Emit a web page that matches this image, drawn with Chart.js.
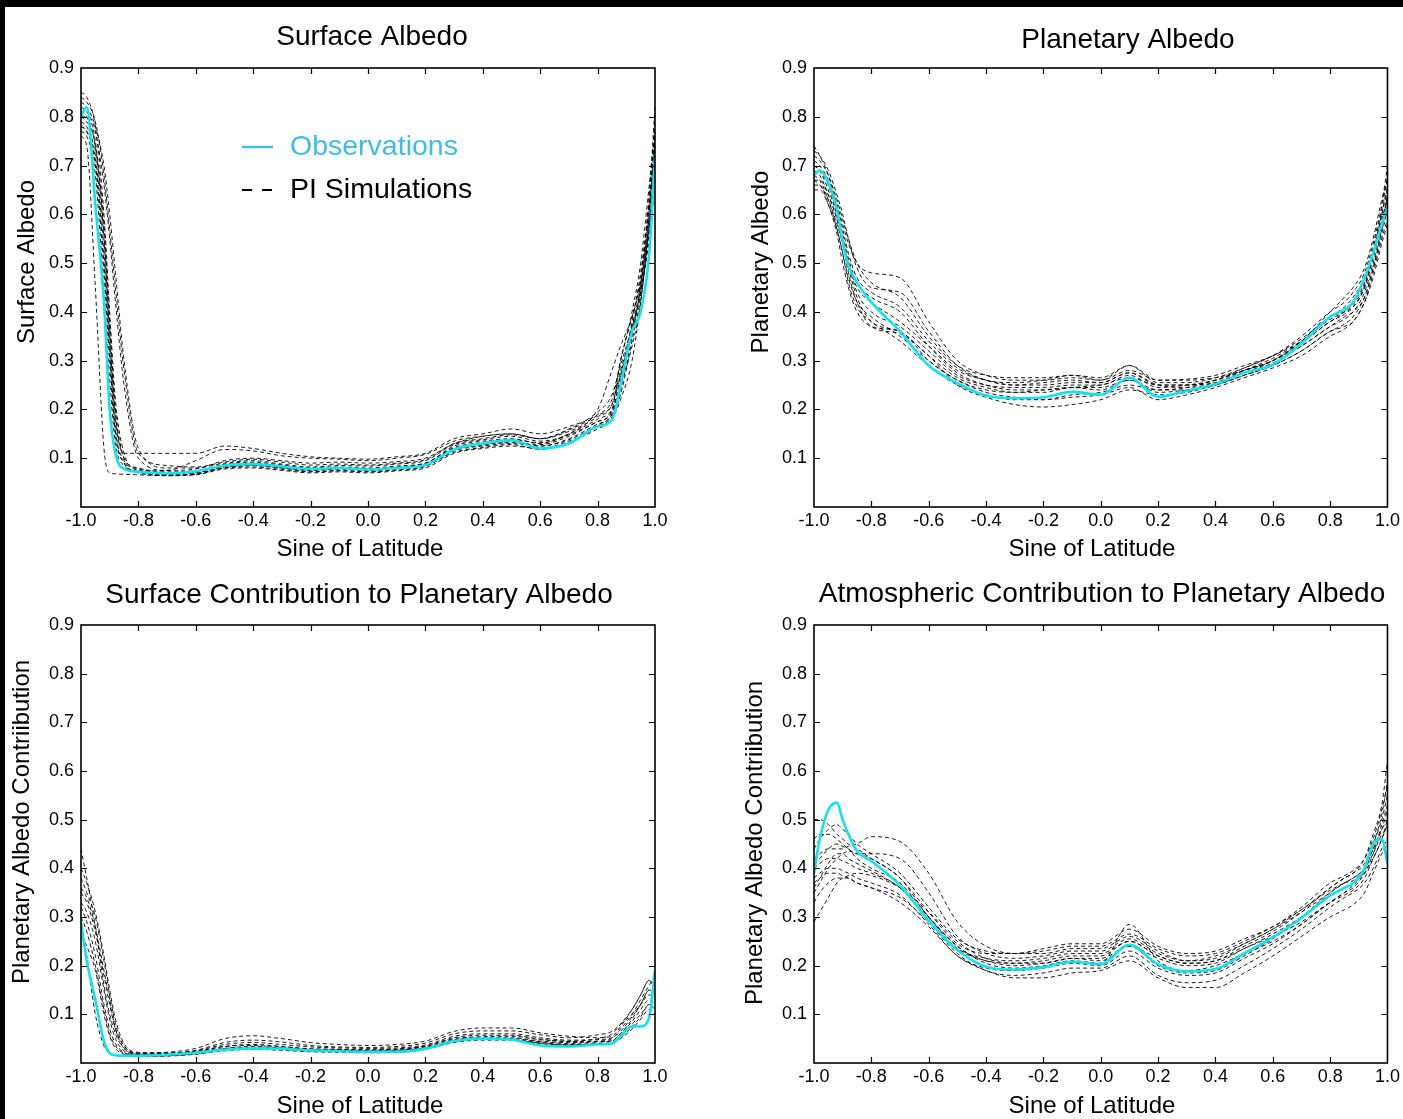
<!DOCTYPE html>
<html>
<head>
<meta charset="utf-8">
<script src="https://cdn.jsdelivr.net/npm/chart.js@4.4.1/dist/chart.umd.min.js"></script>
<style>
  html, body { margin: 0; padding: 0; background: #fff; }
  body { width: 1403px; height: 1119px; position: relative; overflow: hidden; }
  canvas { position: absolute; }
  .bar { position: absolute; background: #000; z-index: 2; }
</style>
</head>
<body>
<div class="bar" style="left:0;top:0;width:1403px;height:7px"></div>
<div class="bar" style="left:0;top:0;width:5px;height:1119px"></div>
<canvas id="c1" width="700" height="560" style="left:0;top:0"></canvas>
<canvas id="c2" width="703" height="560" style="left:700px;top:0"></canvas>
<canvas id="c3" width="700" height="559" style="left:0;top:560px"></canvas>
<canvas id="c4" width="703" height="559" style="left:700px;top:560px"></canvas>
<script>
const sinLat = [-1.0, -0.98, -0.95, -0.92, -0.9, -0.88, -0.85, -0.8, -0.7, -0.6,
  -0.5, -0.4, -0.3, -0.2, -0.1, 0.0, 0.1, 0.2, 0.3, 0.4,
  0.5, 0.6, 0.7, 0.8, 0.85, 0.88, 0.92, 0.95, 0.98, 1.0];

const xTicks = [-1.0, -0.8, -0.6, -0.4, -0.2, 0.0, 0.2, 0.4, 0.6, 0.8, 1.0];
const yTicks = [0.1, 0.2, 0.3, 0.4, 0.5, 0.6, 0.7, 0.8, 0.9];

// Surface albedo
const surfObs = [0.80, 0.82, 0.62, 0.42, 0.20, 0.11, 0.078, 0.072, 0.069, 0.073,
  0.085, 0.088, 0.083, 0.078, 0.080, 0.077, 0.080, 0.086, 0.118, 0.130,
  0.137, 0.120, 0.130, 0.165, 0.178, 0.25, 0.36, 0.40, 0.52, 0.72];
const surfSims = [
  [0.85, 0.84, 0.78, 0.60, 0.40, 0.22, 0.11, 0.075, 0.068, 0.070, 0.082, 0.085, 0.080, 0.075, 0.078, 0.076, 0.080, 0.088, 0.125, 0.135, 0.140, 0.130, 0.150, 0.180, 0.20, 0.25, 0.33, 0.42, 0.60, 0.80],
  [0.78, 0.77, 0.70, 0.48, 0.30, 0.15, 0.09, 0.072, 0.066, 0.068, 0.080, 0.082, 0.077, 0.072, 0.074, 0.073, 0.076, 0.083, 0.115, 0.125, 0.130, 0.125, 0.140, 0.170, 0.19, 0.26, 0.38, 0.48, 0.62, 0.74],
  [0.80, 0.79, 0.74, 0.55, 0.35, 0.18, 0.11, 0.11, 0.11, 0.11, 0.125, 0.120, 0.110, 0.103, 0.100, 0.098, 0.103, 0.110, 0.140, 0.150, 0.160, 0.150, 0.165, 0.190, 0.22, 0.30, 0.40, 0.50, 0.66, 0.77],
  [0.76, 0.74, 0.45, 0.12, 0.07, 0.068, 0.067, 0.066, 0.064, 0.066, 0.078, 0.080, 0.075, 0.070, 0.072, 0.070, 0.074, 0.080, 0.110, 0.120, 0.125, 0.120, 0.135, 0.160, 0.18, 0.22, 0.30, 0.42, 0.58, 0.70],
  [0.82, 0.81, 0.77, 0.66, 0.55, 0.42, 0.25, 0.10, 0.075, 0.078, 0.095, 0.100, 0.095, 0.090, 0.092, 0.090, 0.093, 0.100, 0.130, 0.145, 0.150, 0.140, 0.155, 0.185, 0.21, 0.28, 0.36, 0.44, 0.55, 0.66],
  [0.79, 0.78, 0.72, 0.52, 0.32, 0.16, 0.095, 0.078, 0.070, 0.072, 0.088, 0.092, 0.086, 0.080, 0.082, 0.080, 0.084, 0.090, 0.120, 0.128, 0.132, 0.128, 0.145, 0.175, 0.195, 0.27, 0.37, 0.46, 0.63, 0.79],
  [0.81, 0.80, 0.74, 0.58, 0.38, 0.20, 0.10, 0.070, 0.065, 0.067, 0.080, 0.085, 0.080, 0.073, 0.075, 0.072, 0.076, 0.084, 0.112, 0.122, 0.128, 0.118, 0.132, 0.165, 0.185, 0.23, 0.34, 0.43, 0.57, 0.72],
  [0.77, 0.76, 0.68, 0.44, 0.26, 0.13, 0.085, 0.074, 0.075, 0.095, 0.118, 0.115, 0.105, 0.100, 0.098, 0.095, 0.100, 0.108, 0.135, 0.145, 0.150, 0.140, 0.158, 0.188, 0.21, 0.27, 0.36, 0.45, 0.61, 0.75],
  [0.83, 0.82, 0.78, 0.70, 0.60, 0.48, 0.30, 0.12, 0.080, 0.080, 0.090, 0.095, 0.088, 0.082, 0.085, 0.084, 0.088, 0.095, 0.128, 0.138, 0.145, 0.135, 0.148, 0.175, 0.20, 0.30, 0.39, 0.47, 0.64, 0.82],
  [0.80, 0.80, 0.75, 0.56, 0.36, 0.19, 0.10, 0.080, 0.072, 0.074, 0.086, 0.090, 0.084, 0.079, 0.080, 0.078, 0.082, 0.090, 0.122, 0.132, 0.138, 0.132, 0.150, 0.200, 0.28, 0.33, 0.39, 0.46, 0.58, 0.68],
  [0.78, 0.77, 0.71, 0.50, 0.31, 0.15, 0.09, 0.071, 0.066, 0.069, 0.083, 0.087, 0.081, 0.076, 0.078, 0.075, 0.079, 0.086, 0.117, 0.127, 0.134, 0.125, 0.138, 0.168, 0.19, 0.24, 0.35, 0.45, 0.60, 0.76],
  [0.84, 0.83, 0.79, 0.68, 0.57, 0.45, 0.28, 0.11, 0.085, 0.082, 0.092, 0.098, 0.092, 0.086, 0.088, 0.086, 0.090, 0.097, 0.130, 0.140, 0.148, 0.140, 0.160, 0.195, 0.23, 0.29, 0.37, 0.44, 0.57, 0.70]
];

// Planetary albedo
const planObs = [0.68, 0.69, 0.665, 0.61, 0.545, 0.495, 0.46, 0.42, 0.36, 0.29,
  0.254, 0.228, 0.223, 0.225, 0.236, 0.23, 0.265, 0.226, 0.238, 0.252,
  0.275, 0.292, 0.335, 0.39, 0.405, 0.42, 0.47, 0.52, 0.58, 0.615];
const planSims = [
  [0.74, 0.72, 0.68, 0.62, 0.58, 0.54, 0.50, 0.48, 0.47, 0.38, 0.30, 0.27, 0.26, 0.26, 0.265, 0.26, 0.28, 0.26, 0.262, 0.27, 0.29, 0.31, 0.345, 0.39, 0.41, 0.43, 0.47, 0.52, 0.60, 0.66],
  [0.66, 0.66, 0.62, 0.56, 0.50, 0.45, 0.40, 0.37, 0.36, 0.30, 0.26, 0.24, 0.235, 0.24, 0.245, 0.24, 0.26, 0.235, 0.24, 0.25, 0.27, 0.29, 0.32, 0.36, 0.37, 0.38, 0.42, 0.48, 0.55, 0.59],
  [0.70, 0.69, 0.66, 0.60, 0.55, 0.50, 0.45, 0.42, 0.38, 0.33, 0.28, 0.26, 0.25, 0.255, 0.26, 0.255, 0.275, 0.25, 0.25, 0.26, 0.285, 0.31, 0.34, 0.38, 0.40, 0.42, 0.46, 0.53, 0.61, 0.68],
  [0.68, 0.67, 0.63, 0.57, 0.52, 0.47, 0.42, 0.39, 0.35, 0.30, 0.26, 0.235, 0.225, 0.22, 0.23, 0.235, 0.25, 0.24, 0.245, 0.26, 0.28, 0.30, 0.33, 0.37, 0.385, 0.40, 0.44, 0.50, 0.57, 0.62],
  [0.72, 0.71, 0.68, 0.63, 0.59, 0.55, 0.50, 0.46, 0.43, 0.35, 0.29, 0.27, 0.265, 0.265, 0.27, 0.265, 0.29, 0.255, 0.255, 0.265, 0.285, 0.31, 0.35, 0.40, 0.42, 0.44, 0.48, 0.54, 0.62, 0.70],
  [0.67, 0.66, 0.63, 0.58, 0.54, 0.48, 0.42, 0.37, 0.355, 0.31, 0.25, 0.225, 0.21, 0.205, 0.21, 0.22, 0.24, 0.23, 0.235, 0.25, 0.27, 0.29, 0.32, 0.36, 0.375, 0.39, 0.43, 0.49, 0.56, 0.61],
  [0.69, 0.68, 0.64, 0.59, 0.55, 0.50, 0.44, 0.40, 0.37, 0.32, 0.27, 0.25, 0.245, 0.245, 0.25, 0.25, 0.27, 0.245, 0.25, 0.26, 0.28, 0.30, 0.335, 0.38, 0.395, 0.41, 0.45, 0.51, 0.58, 0.64],
  [0.71, 0.70, 0.67, 0.62, 0.57, 0.52, 0.47, 0.44, 0.41, 0.34, 0.285, 0.26, 0.255, 0.26, 0.27, 0.26, 0.29, 0.26, 0.26, 0.265, 0.28, 0.30, 0.34, 0.40, 0.43, 0.45, 0.49, 0.55, 0.63, 0.67],
  [0.65, 0.65, 0.62, 0.57, 0.52, 0.46, 0.41, 0.38, 0.34, 0.29, 0.25, 0.23, 0.22, 0.22, 0.225, 0.23, 0.245, 0.22, 0.23, 0.245, 0.265, 0.285, 0.31, 0.35, 0.365, 0.38, 0.42, 0.47, 0.54, 0.58],
  [0.70, 0.69, 0.65, 0.60, 0.56, 0.51, 0.46, 0.43, 0.40, 0.33, 0.275, 0.25, 0.24, 0.24, 0.245, 0.25, 0.265, 0.25, 0.25, 0.255, 0.275, 0.30, 0.34, 0.39, 0.40, 0.41, 0.45, 0.52, 0.60, 0.65],
  [0.73, 0.72, 0.69, 0.64, 0.60, 0.55, 0.49, 0.45, 0.44, 0.36, 0.29, 0.26, 0.25, 0.25, 0.255, 0.255, 0.275, 0.25, 0.245, 0.255, 0.28, 0.305, 0.34, 0.385, 0.40, 0.415, 0.455, 0.52, 0.59, 0.63],
  [0.67, 0.67, 0.64, 0.59, 0.54, 0.49, 0.43, 0.38, 0.36, 0.31, 0.265, 0.245, 0.235, 0.235, 0.245, 0.245, 0.26, 0.24, 0.24, 0.25, 0.275, 0.295, 0.33, 0.37, 0.39, 0.40, 0.43, 0.49, 0.57, 0.64]
];

// Surface contribution to planetary albedo
const surfContribObs = [0.29, 0.21, 0.13, 0.045, 0.02, 0.016, 0.015, 0.015, 0.017, 0.021,
  0.027, 0.030, 0.029, 0.026, 0.024, 0.023, 0.023, 0.029, 0.045, 0.050,
  0.048, 0.036, 0.034, 0.038, 0.040, 0.055, 0.075, 0.075, 0.095, 0.19];
const surfContribSims = [
  [0.44, 0.38, 0.28, 0.16, 0.10, 0.06, 0.03, 0.018, 0.018, 0.022, 0.030, 0.032, 0.030, 0.027, 0.026, 0.025, 0.026, 0.032, 0.048, 0.052, 0.052, 0.045, 0.042, 0.045, 0.05, 0.07, 0.10, 0.13, 0.16, 0.18],
  [0.32, 0.29, 0.22, 0.12, 0.07, 0.04, 0.022, 0.015, 0.016, 0.020, 0.028, 0.030, 0.028, 0.025, 0.024, 0.023, 0.024, 0.030, 0.045, 0.050, 0.049, 0.042, 0.038, 0.040, 0.042, 0.055, 0.08, 0.10, 0.12, 0.11],
  [0.38, 0.35, 0.30, 0.21, 0.14, 0.08, 0.035, 0.02, 0.022, 0.030, 0.050, 0.056, 0.050, 0.042, 0.038, 0.036, 0.038, 0.045, 0.065, 0.072, 0.072, 0.062, 0.055, 0.052, 0.055, 0.075, 0.11, 0.14, 0.17, 0.16],
  [0.28, 0.22, 0.10, 0.035, 0.02, 0.016, 0.014, 0.013, 0.014, 0.018, 0.025, 0.028, 0.026, 0.023, 0.022, 0.021, 0.022, 0.028, 0.042, 0.047, 0.047, 0.040, 0.036, 0.038, 0.040, 0.05, 0.07, 0.09, 0.11, 0.10],
  [0.35, 0.33, 0.27, 0.18, 0.12, 0.07, 0.035, 0.02, 0.02, 0.025, 0.038, 0.042, 0.038, 0.033, 0.031, 0.030, 0.031, 0.037, 0.055, 0.060, 0.060, 0.052, 0.047, 0.048, 0.052, 0.065, 0.095, 0.12, 0.15, 0.14],
  [0.30, 0.27, 0.20, 0.11, 0.06, 0.035, 0.02, 0.015, 0.016, 0.021, 0.030, 0.034, 0.031, 0.027, 0.026, 0.025, 0.026, 0.031, 0.046, 0.050, 0.050, 0.044, 0.040, 0.043, 0.045, 0.06, 0.085, 0.11, 0.13, 0.12],
  [0.33, 0.31, 0.25, 0.15, 0.09, 0.05, 0.025, 0.016, 0.017, 0.023, 0.034, 0.038, 0.034, 0.029, 0.028, 0.027, 0.029, 0.035, 0.052, 0.057, 0.057, 0.049, 0.044, 0.044, 0.046, 0.06, 0.09, 0.12, 0.14, 0.13],
  [0.36, 0.34, 0.28, 0.19, 0.13, 0.07, 0.03, 0.018, 0.019, 0.026, 0.042, 0.047, 0.043, 0.036, 0.033, 0.032, 0.034, 0.041, 0.060, 0.066, 0.066, 0.058, 0.052, 0.058, 0.065, 0.08, 0.10, 0.12, 0.15, 0.15],
  [0.26, 0.24, 0.19, 0.10, 0.055, 0.03, 0.018, 0.014, 0.015, 0.019, 0.027, 0.030, 0.028, 0.025, 0.024, 0.023, 0.024, 0.029, 0.044, 0.049, 0.048, 0.041, 0.037, 0.039, 0.041, 0.052, 0.075, 0.095, 0.12, 0.12],
  [0.40, 0.37, 0.31, 0.22, 0.15, 0.09, 0.04, 0.022, 0.021, 0.024, 0.034, 0.036, 0.033, 0.029, 0.028, 0.027, 0.028, 0.034, 0.050, 0.054, 0.055, 0.048, 0.045, 0.050, 0.060, 0.08, 0.11, 0.14, 0.17, 0.15]
];

// Atmospheric contribution to planetary albedo
const atmContribObs = [0.39, 0.46, 0.52, 0.535, 0.50, 0.47, 0.435, 0.415, 0.365, 0.293,
  0.232, 0.198, 0.192, 0.197, 0.208, 0.203, 0.243, 0.203, 0.188, 0.193,
  0.225, 0.258, 0.298, 0.344, 0.36, 0.37, 0.40, 0.45, 0.46, 0.41];
const atmContribSims = [
  [0.50, 0.50, 0.49, 0.47, 0.46, 0.45, 0.44, 0.42, 0.38, 0.30, 0.24, 0.21, 0.205, 0.21, 0.22, 0.22, 0.25, 0.22, 0.205, 0.21, 0.24, 0.27, 0.31, 0.36, 0.38, 0.39, 0.42, 0.47, 0.53, 0.62],
  [0.42, 0.43, 0.44, 0.44, 0.44, 0.445, 0.45, 0.465, 0.455, 0.39, 0.29, 0.24, 0.225, 0.225, 0.235, 0.235, 0.26, 0.23, 0.21, 0.22, 0.245, 0.275, 0.31, 0.35, 0.37, 0.38, 0.40, 0.44, 0.48, 0.52],
  [0.29, 0.31, 0.34, 0.37, 0.38, 0.385, 0.39, 0.385, 0.36, 0.31, 0.25, 0.215, 0.205, 0.205, 0.215, 0.215, 0.24, 0.215, 0.20, 0.205, 0.235, 0.26, 0.29, 0.33, 0.345, 0.355, 0.38, 0.42, 0.46, 0.50],
  [0.40, 0.41, 0.42, 0.42, 0.415, 0.41, 0.40, 0.39, 0.36, 0.29, 0.225, 0.19, 0.18, 0.185, 0.195, 0.195, 0.22, 0.18, 0.165, 0.17, 0.20, 0.235, 0.275, 0.32, 0.34, 0.35, 0.37, 0.40, 0.44, 0.46],
  [0.35, 0.37, 0.40, 0.42, 0.43, 0.435, 0.43, 0.42, 0.38, 0.31, 0.245, 0.225, 0.225, 0.235, 0.245, 0.245, 0.275, 0.24, 0.225, 0.23, 0.255, 0.28, 0.32, 0.37, 0.385, 0.395, 0.42, 0.46, 0.52, 0.57],
  [0.38, 0.39, 0.40, 0.40, 0.395, 0.39, 0.38, 0.37, 0.345, 0.285, 0.22, 0.195, 0.19, 0.195, 0.205, 0.20, 0.23, 0.195, 0.18, 0.185, 0.215, 0.245, 0.285, 0.33, 0.35, 0.36, 0.39, 0.43, 0.49, 0.53],
  [0.44, 0.46, 0.48, 0.49, 0.48, 0.47, 0.45, 0.43, 0.39, 0.32, 0.255, 0.23, 0.225, 0.23, 0.24, 0.24, 0.265, 0.235, 0.22, 0.225, 0.25, 0.28, 0.315, 0.36, 0.38, 0.39, 0.41, 0.45, 0.50, 0.55],
  [0.33, 0.35, 0.37, 0.38, 0.38, 0.38, 0.37, 0.36, 0.33, 0.28, 0.22, 0.19, 0.175, 0.175, 0.185, 0.19, 0.21, 0.175, 0.155, 0.155, 0.185, 0.22, 0.26, 0.30, 0.315, 0.325, 0.35, 0.39, 0.43, 0.45],
  [0.41, 0.42, 0.44, 0.45, 0.445, 0.44, 0.42, 0.40, 0.37, 0.30, 0.235, 0.21, 0.20, 0.205, 0.215, 0.21, 0.24, 0.20, 0.185, 0.19, 0.22, 0.255, 0.30, 0.35, 0.37, 0.375, 0.40, 0.44, 0.48, 0.50],
  [0.37, 0.38, 0.39, 0.39, 0.385, 0.38, 0.37, 0.36, 0.34, 0.29, 0.235, 0.215, 0.21, 0.215, 0.225, 0.225, 0.25, 0.22, 0.205, 0.21, 0.235, 0.265, 0.30, 0.345, 0.36, 0.37, 0.395, 0.45, 0.51, 0.58],
  [0.46, 0.47, 0.47, 0.46, 0.45, 0.44, 0.43, 0.43, 0.42, 0.35, 0.26, 0.225, 0.215, 0.22, 0.23, 0.23, 0.255, 0.225, 0.21, 0.215, 0.245, 0.275, 0.315, 0.355, 0.37, 0.38, 0.40, 0.43, 0.47, 0.48],
  [0.36, 0.38, 0.41, 0.43, 0.43, 0.42, 0.41, 0.395, 0.36, 0.30, 0.24, 0.205, 0.195, 0.20, 0.21, 0.205, 0.285, 0.21, 0.19, 0.20, 0.225, 0.25, 0.285, 0.33, 0.35, 0.365, 0.39, 0.42, 0.46, 0.49]
];

const FONT = "'Liberation Sans', Arial, Helvetica, sans-serif";
const OBS_COLOR = '#0fe4ee';
const LEGEND_BLUE = '#3dbde8';
Chart.defaults.color = '#000';
Chart.defaults.font.family = FONT;

const toPoints = (vals) => sinLat.map((x, i) => ({ x: x, y: vals[i] }));
const fmt = (v) => (Math.abs(v) < 1e-9 ? 0 : v).toFixed(1);

// frame, inward tick marks and the texts around each panel
const panelDecor = {
  id: 'panelDecor',
  afterDatasetsDraw(chart, args, o) {
    const { ctx, chartArea: a, scales: { x, y } } = chart;
    const tick = 6;
    ctx.save();
    ctx.strokeStyle = '#000';
    ctx.lineWidth = 1.2;
    ctx.beginPath();
    x.ticks.forEach(t => {
      const px = Math.round(x.getPixelForValue(t.value)) + 0.5;
      if (px < a.left + 2 || px > a.right - 2) return;
      ctx.moveTo(px, a.bottom); ctx.lineTo(px, a.bottom - tick);
      ctx.moveTo(px, a.top); ctx.lineTo(px, a.top + tick);
    });
    y.ticks.forEach(t => {
      const py = Math.round(y.getPixelForValue(t.value)) + 0.5;
      if (py < a.top + 2 || py > a.bottom - 2) return;
      ctx.moveTo(a.left, py); ctx.lineTo(a.left + tick, py);
      ctx.moveTo(a.right, py); ctx.lineTo(a.right - tick, py);
    });
    ctx.stroke();
    ctx.lineWidth = 1.6;
    ctx.strokeRect(a.left, a.top, a.right - a.left, a.bottom - a.top);
    ctx.restore();
  },
  afterDraw(chart, args, o) {
    const ctx = chart.ctx;
    ctx.save();
    ctx.fillStyle = '#000';
    ctx.textBaseline = 'middle';
    ctx.textAlign = 'center';
    ctx.font = '28px ' + FONT;
    ctx.fillText(o.title, o.titleAt[0], o.titleAt[1]);
    ctx.font = '24px ' + FONT;
    ctx.fillText('Sine of Latitude', o.xTitleAt[0], o.xTitleAt[1]);
    ctx.save();
    ctx.translate(o.yTitleAt[0], o.yTitleAt[1]);
    ctx.rotate(-Math.PI / 2);
    ctx.fillText(o.yTitle, 0, 0);
    ctx.restore();
    if (o.legendAt) {
      const [lx, ly] = o.legendAt;
      const ds = chart.data.datasets;
      ctx.textAlign = 'left';
      ctx.font = '28.5px ' + FONT;
      ctx.strokeStyle = LEGEND_BLUE;
      ctx.lineWidth = 2.5;
      ctx.beginPath(); ctx.moveTo(lx, ly); ctx.lineTo(lx + 31, ly); ctx.stroke();
      ctx.fillStyle = LEGEND_BLUE;
      ctx.fillText(ds[0].label, lx + 48, ly);
      ctx.strokeStyle = '#000';
      ctx.lineWidth = 2;
      ctx.setLineDash([10, 10]);
      ctx.beginPath(); ctx.moveTo(lx, ly + 43); ctx.lineTo(lx + 31, ly + 43); ctx.stroke();
      ctx.setLineDash([]);
      ctx.fillStyle = '#000';
      ctx.fillText(ds[1].label, lx + 48, ly + 43);
    }
    ctx.restore();
  }
};

function makePanel(id, obs, sims, pad, decor) {
  const datasets = [{
    label: 'Observations',
    data: toPoints(obs),
    borderColor: OBS_COLOR,
    borderWidth: 2.6,
    order: 0
  }];
  sims.forEach(s => datasets.push({
    label: 'PI Simulations',
    data: toPoints(s),
    borderColor: '#000',
    borderWidth: 0.9,
    borderDash: [4, 3],
    order: 1
  }));
  return new Chart(document.getElementById(id), {
    type: 'line',
    data: { datasets: datasets },
    plugins: [panelDecor],
    options: {
      responsive: false,
      animation: false,
      layout: { padding: pad },
      elements: {
        point: { radius: 0 },
        line: { cubicInterpolationMode: 'monotone', fill: false }
      },
      scales: {
        x: {
          type: 'linear', min: -1, max: 1,
          grid: { display: false, drawTicks: false },
          border: { display: false },
          afterBuildTicks: s => { s.ticks = xTicks.map(v => ({ value: v })); },
          afterFit: s => { s.height = 30; },
          ticks: { padding: 3, maxRotation: 0, autoSkip: false, font: { size: 18 }, callback: v => fmt(v) }
        },
        y: {
          type: 'linear', min: 0, max: 0.9,
          grid: { display: false, drawTicks: false },
          border: { display: false },
          afterBuildTicks: s => { s.ticks = yTicks.map(v => ({ value: v })); },
          afterFit: s => { s.width = 60; },
          ticks: { padding: 7, font: { size: 18 }, callback: v => fmt(v) }
        }
      },
      plugins: {
        legend: { display: false },
        tooltip: { enabled: false },
        panelDecor: decor
      }
    }
  });
}

makePanel('c1', surfObs, surfSims,
  { left: 21, top: 68, right: 45, bottom: 23 },
  { title: 'Surface Albedo', titleAt: [372, 37], xTitleAt: [360, 549],
    yTitle: 'Surface Albedo', yTitleAt: [27, 262], legendAt: [242, 147] });

makePanel('c2', planObs, planSims,
  { left: 54, top: 68, right: 15, bottom: 23 },
  { title: 'Planetary Albedo', titleAt: [428, 40], xTitleAt: [392, 549],
    yTitle: 'Planetary Albedo', yTitleAt: [61, 262] });

makePanel('c3', surfContribObs, surfContribSims,
  { left: 21, top: 65, right: 45, bottom: 26 },
  { title: 'Surface Contribution to Planetary Albedo', titleAt: [359, 35], xTitleAt: [360, 546],
    yTitle: 'Planetary Albedo Contriibution', yTitleAt: [22, 262] });

makePanel('c4', atmContribObs, atmContribSims,
  { left: 54, top: 65, right: 15, bottom: 26 },
  { title: 'Atmospheric Contribution to Planetary Albedo', titleAt: [402, 34], xTitleAt: [392, 546],
    yTitle: 'Planetary Albedo Contriibution', yTitleAt: [55, 283] });
</script>
</body>
</html>
